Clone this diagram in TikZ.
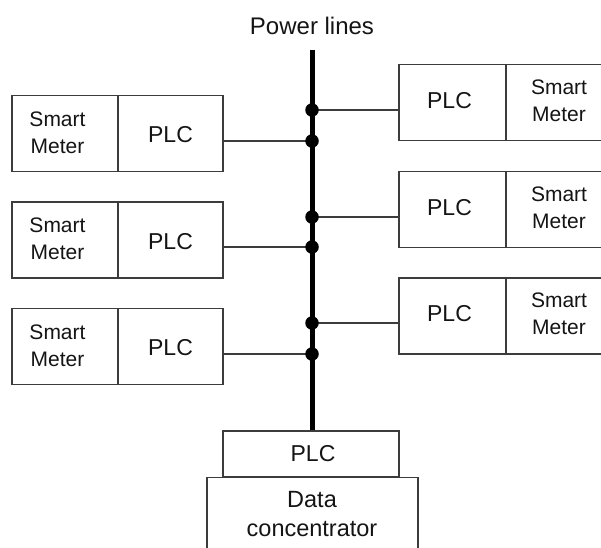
\documentclass[tikz,border=0pt]{standalone}
\usepackage{fontspec}
\setmainfont{Liberation Sans}
\usetikzlibrary{calc}
\definecolor{edge}{RGB}{60,60,60}
\definecolor{ink}{RGB}{20,20,20}
\begin{document}
\begin{tikzpicture}[x=1pt,y=-1pt,
  cellbox/.style={draw=edge,line width=1.3pt,inner sep=0pt,minimum height=76pt},
  meterbox/.style={cellbox,minimum width=106pt},
  plcbox/.style={cellbox,minimum width=106pt},
  lbl/.style={text=ink,inner sep=0pt,font=\fontsize{23}{27}\selectfont},
  meterlbl/.style={text=ink,inner sep=0pt,align=center,font=\fontsize{21}{27}\selectfont},
  wire/.style={draw=edge,line width=1.1pt},
  bus/.style={draw=black,line width=5pt},
  tap/.style={circle,fill=black,inner sep=0pt,minimum size=13.5pt}]
\useasboundingbox (0,0) rectangle (601,547);
\clip (0,0) rectangle (601,547);

% title
\node[lbl,font=\fontsize{24}{28}\selectfont] (title) at (312,25.5) {Power lines};

% left-hand meters: Smart Meter | PLC
\foreach \i/\y in {1/133.5,2/240,3/346.5}{
  \node[meterbox] (lm\i) at (65,\y) {};
  \node[plcbox,minimum width=105pt] (lp\i) at (170.5,\y) {};
  \node[meterlbl] (lmt\i) at ($(lm\i.center)+(-7.5,-1)$) {Smart\\Meter};
  \node[lbl] (lpt\i) at ($(lp\i.center)+(0,1.5)$) {PLC};
}

% right-hand meters: PLC | Smart Meter
\foreach \i/\y in {1/102.5,2/209.5,3/316}{
  \node[plcbox,minimum width=107pt] (rp\i) at (452.5,\y) {};
  \node[meterbox] (rm\i) at (559,\y) {};
  \node[lbl] (rpt\i) at ($(rp\i.center)+(-3,-2)$) {PLC};
  \node[meterlbl] (rmt\i) at ($(rm\i.center)+(0,-2)$) {Smart\\Meter};
}

% data concentrator with its PLC modem
\node[cellbox,minimum width=176pt,minimum height=46pt] (cp) at (311,454) {};
\node[lbl] (cpt) at (313,453.5) {PLC};
\node[cellbox,anchor=north,minimum width=211pt,minimum height=90pt] (dc) at (312.5,477) {};
\node[lbl,align=center,font=\fontsize{23.5}{29.5}\selectfont] (dct) at (312,514) {Data\\concentrator};

% power line
\coordinate (bustop) at (312,50);
\draw[bus] (bustop) -- (cp.north -| bustop);

% tap points on the power line
\foreach \n/\y in {a/110,b/141,c/217,d/247,e/323,f/354}{
  \coordinate (t\n) at (312,\y);
}

% connections from the taps to the modems
\draw[wire] (ta) -- (ta -| rp1.west);
\draw[wire] (tb) -- (tb -| lp1.east);
\draw[wire] (tc) -- (tc -| rp2.west);
\draw[wire] (td) -- (td -| lp2.east);
\draw[wire] (te) -- (te -| rp3.west);
\draw[wire] (tf) -- (tf -| lp3.east);

% junction dots
\foreach \n in {a,b,c,d,e,f}{\node[tap] (j\n) at (t\n) {};}
\end{tikzpicture}
\end{document}
